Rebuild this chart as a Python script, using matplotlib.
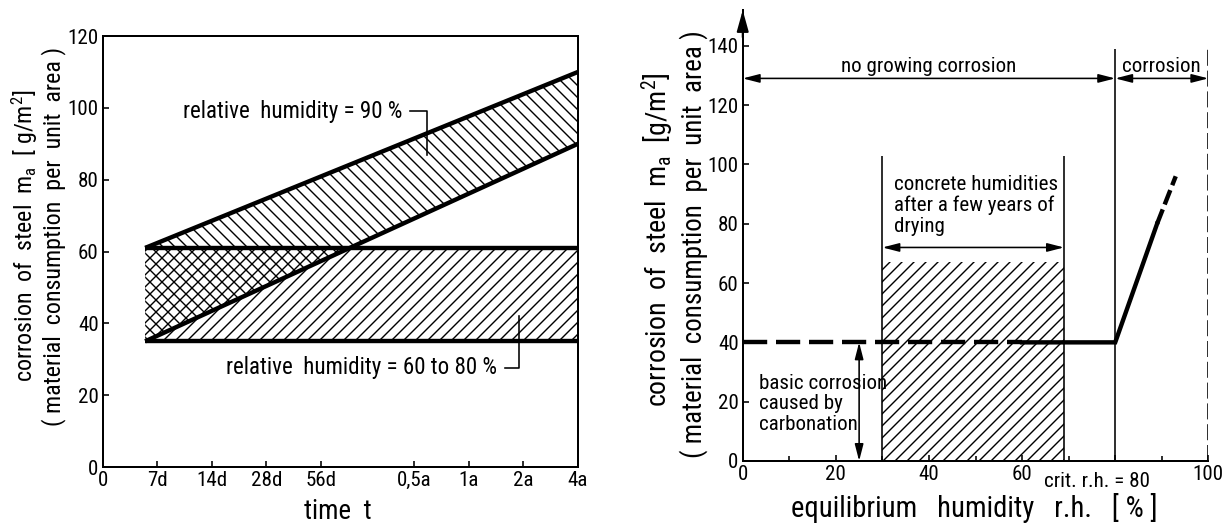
import matplotlib
matplotlib.use('Agg')
import matplotlib.pyplot as plt
from matplotlib.ticker import FixedLocator, NullLocator

plt.rcParams['font.family'] = ['Roboto Condensed', 'DejaVu Sans']
plt.rcParams['mathtext.fontset'] = 'custom'
plt.rcParams['mathtext.rm'] = 'Roboto Condensed'
plt.rcParams['hatch.linewidth'] = 0.7

# links: Korrosion ueber die Zeit (Zeit in Tagen, log2-Achse)
time_days = [6, 1461]
rh90_top = [61, 110]
rh90_bottom = [35, 90]
rh6080_top = [61, 61]
rh6080_bottom = [35, 35]
time_tick_days = [3.5, 7, 14, 28, 56, 182.5, 365, 730, 1461]
time_tick_labels = ['0', '7d', '14d', '28d', '56d', '0,5a', '1a', '2a', '4a']
left_yticks = [0, 20, 40, 60, 80, 100, 120]

# rechts: Korrosion ueber Ausgleichsfeuchte
rh_dashed_low = [0, 60]
mass_dashed_low = [40, 40]
rh_solid = [60, 80, 89]
mass_solid = [40, 40, 80]
rh_dashed_high = [89, 93]
mass_dashed_high = [80, 96]
drying_range = [30, 69]
drying_hatch_top = 67
crit_rh = 80
basic_rh = 25
basic_mass = 40
right_xticks = [0, 20, 40, 60, 80, 100]
right_xtick_labels = ['0', '20', '40', '60', '', '100']
right_minor = [10, 30, 50, 70, 90]
right_yticks = [0, 20, 40, 60, 80, 100, 120, 140]

fig = plt.figure(figsize=(8.5, 528 / 144), dpi=144)

# ---------- linkes Diagramm ----------
ax1 = fig.add_axes([0.0839, 0.1155, 0.3883, 0.8163])
ax1.set_xscale('log', base=2)
ax1.fill_between(time_days, rh6080_bottom, rh6080_top, facecolor='none',
                 edgecolor='k', hatch='////', lw=0)
ax1.fill_between(time_days, rh90_bottom, rh90_top, facecolor='none',
                 edgecolor='k', hatch='\\\\\\\\', lw=0)
for yy in [rh90_top, rh90_bottom, rh6080_top, rh6080_bottom]:
    ax1.plot(time_days, yy, color='k', lw=2.2, solid_capstyle='butt')

ax1.set_xlim(3.5, 1461)
ax1.set_ylim(0, 120)
ax1.xaxis.set_major_locator(FixedLocator(time_tick_days))
ax1.xaxis.set_minor_locator(NullLocator())
ax1.set_xticklabels(time_tick_labels)
ax1.set_yticks(left_yticks)
ax1.tick_params(direction='in', length=3, width=0.8, labelsize=10.5, pad=2)
for s in ax1.spines.values():
    s.set_linewidth(1.0)

ax1.text(158, 99, 'relative  humidity = 90 %', ha='right', va='center', fontsize=11.5)
ax1.plot([173, 215, 215], [99, 99, 87], color='k', lw=0.8)
ax1.text(522, 27.6, 'relative  humidity = 60 to 80 %', ha='right', va='center', fontsize=11.5)
ax1.plot([578, 690, 690], [27.6, 27.6, 42], color='k', lw=0.8)

fig.text(0.0200, 0.553, r'corrosion  of  steel  $\mathregular{m_a}$  [ g/m$\mathregular{^2}$]',
         rotation=90, ha='center', va='center', fontsize=12)
fig.text(0.0440, 0.553, '( material  consumption  per  unit  area )',
         rotation=90, ha='center', va='center', fontsize=12)
fig.text(0.276, 0.032, 'time  t', ha='center', va='center', fontsize=13.5)

# ---------- rechtes Diagramm ----------
ax2 = fig.add_axes([0.6068, 0.1269, 0.3804, 0.8538])
ax2.bar(drying_range[0], drying_hatch_top, width=drying_range[1] - drying_range[0],
        align='edge', facecolor='none', edgecolor='k', hatch='////', lw=0)
ax2.vlines(drying_range, 0, 103, color='k', lw=0.8)
ax2.vlines(crit_rh, 0, 139, color='k', lw=0.8)
ax2.vlines(100, 0, 140, color='k', lw=0.8, linestyles=(0, (10, 3)))

ax2.plot(rh_dashed_low, mass_dashed_low, color='k', lw=2.2, dashes=(5.5, 2))
ax2.plot(rh_solid, mass_solid, color='k', lw=2.2, solid_joinstyle='miter')
ax2.plot(rh_dashed_high, mass_dashed_high, color='k', lw=2.2, dashes=(3.5, 1.2))

arrow = dict(arrowstyle='<|-|>,head_length=0.7,head_width=0.18', color='k',
             lw=0.8, shrinkA=0, shrinkB=0, mutation_scale=10)
ax2.annotate('', xy=(crit_rh, 129), xytext=(0, 129), arrowprops=arrow)
ax2.annotate('', xy=(100, 129), xytext=(crit_rh, 129), arrowprops=arrow)
ax2.annotate('', xy=(drying_range[1], 72), xytext=(drying_range[0], 72), arrowprops=arrow)
ax2.annotate('', xy=(basic_rh, basic_mass), xytext=(basic_rh, 0), arrowprops=arrow)

ax2.text(40, 133, 'no growing corrosion', ha='center', va='center', fontsize=10.5)
ax2.text(90, 133, 'corrosion', ha='center', va='center', fontsize=10.5)
ax2.text(32.5, 96.5, 'concrete humidities\nafter a few years of\ndrying',
         ha='left', va='top', fontsize=10.5, linespacing=1.12)
ax2.text(3.5, 29.5, 'basic corrosion\ncaused by\ncarbonation',
         ha='left', va='top', fontsize=10.5, linespacing=1.12)

ax2.set_xlim(0, 100)
ax2.set_ylim(0, 152)
ax2.set_xticks(right_xticks)
ax2.set_xticklabels(right_xtick_labels)
ax2.set_xticks(right_minor, minor=True)
ax2.set_yticks(right_yticks)
ax2.tick_params(direction='in', length=3, width=0.8, labelsize=10.5, pad=2)
ax2.tick_params(which='minor', direction='in', length=2.5, width=0.8)
ax2.text(76, -0.045, 'crit. r.h. = 80', transform=ax2.get_xaxis_transform(),
         ha='center', va='center', fontsize=10.5)
ax2.spines['top'].set_visible(False)
ax2.spines['right'].set_visible(False)
for s in ['left', 'bottom']:
    ax2.spines[s].set_linewidth(1.0)
ax2.annotate('', xy=(0, 1.0), xytext=(0, 0.94), xycoords='axes fraction',
             arrowprops=dict(arrowstyle='-|>,head_length=0.9,head_width=0.25',
                             color='k', lw=1.0, shrinkA=0, shrinkB=0, mutation_scale=10))

fig.text(0.537, 0.545, r'corrosion  of  steel  $\mathregular{m_a}$  [g/m$\mathregular{^2}$]',
         rotation=90, ha='center', va='center', fontsize=14)
fig.text(0.567, 0.538, '( material  consumption  per  unit  area )',
         rotation=90, ha='center', va='center', fontsize=13.5)
fig.text(0.796, 0.038, 'equilibrium   humidity   r.h.   [ % ]', ha='center', va='center',
         fontsize=14.3)

fig.savefig('out.png', dpi=144)
